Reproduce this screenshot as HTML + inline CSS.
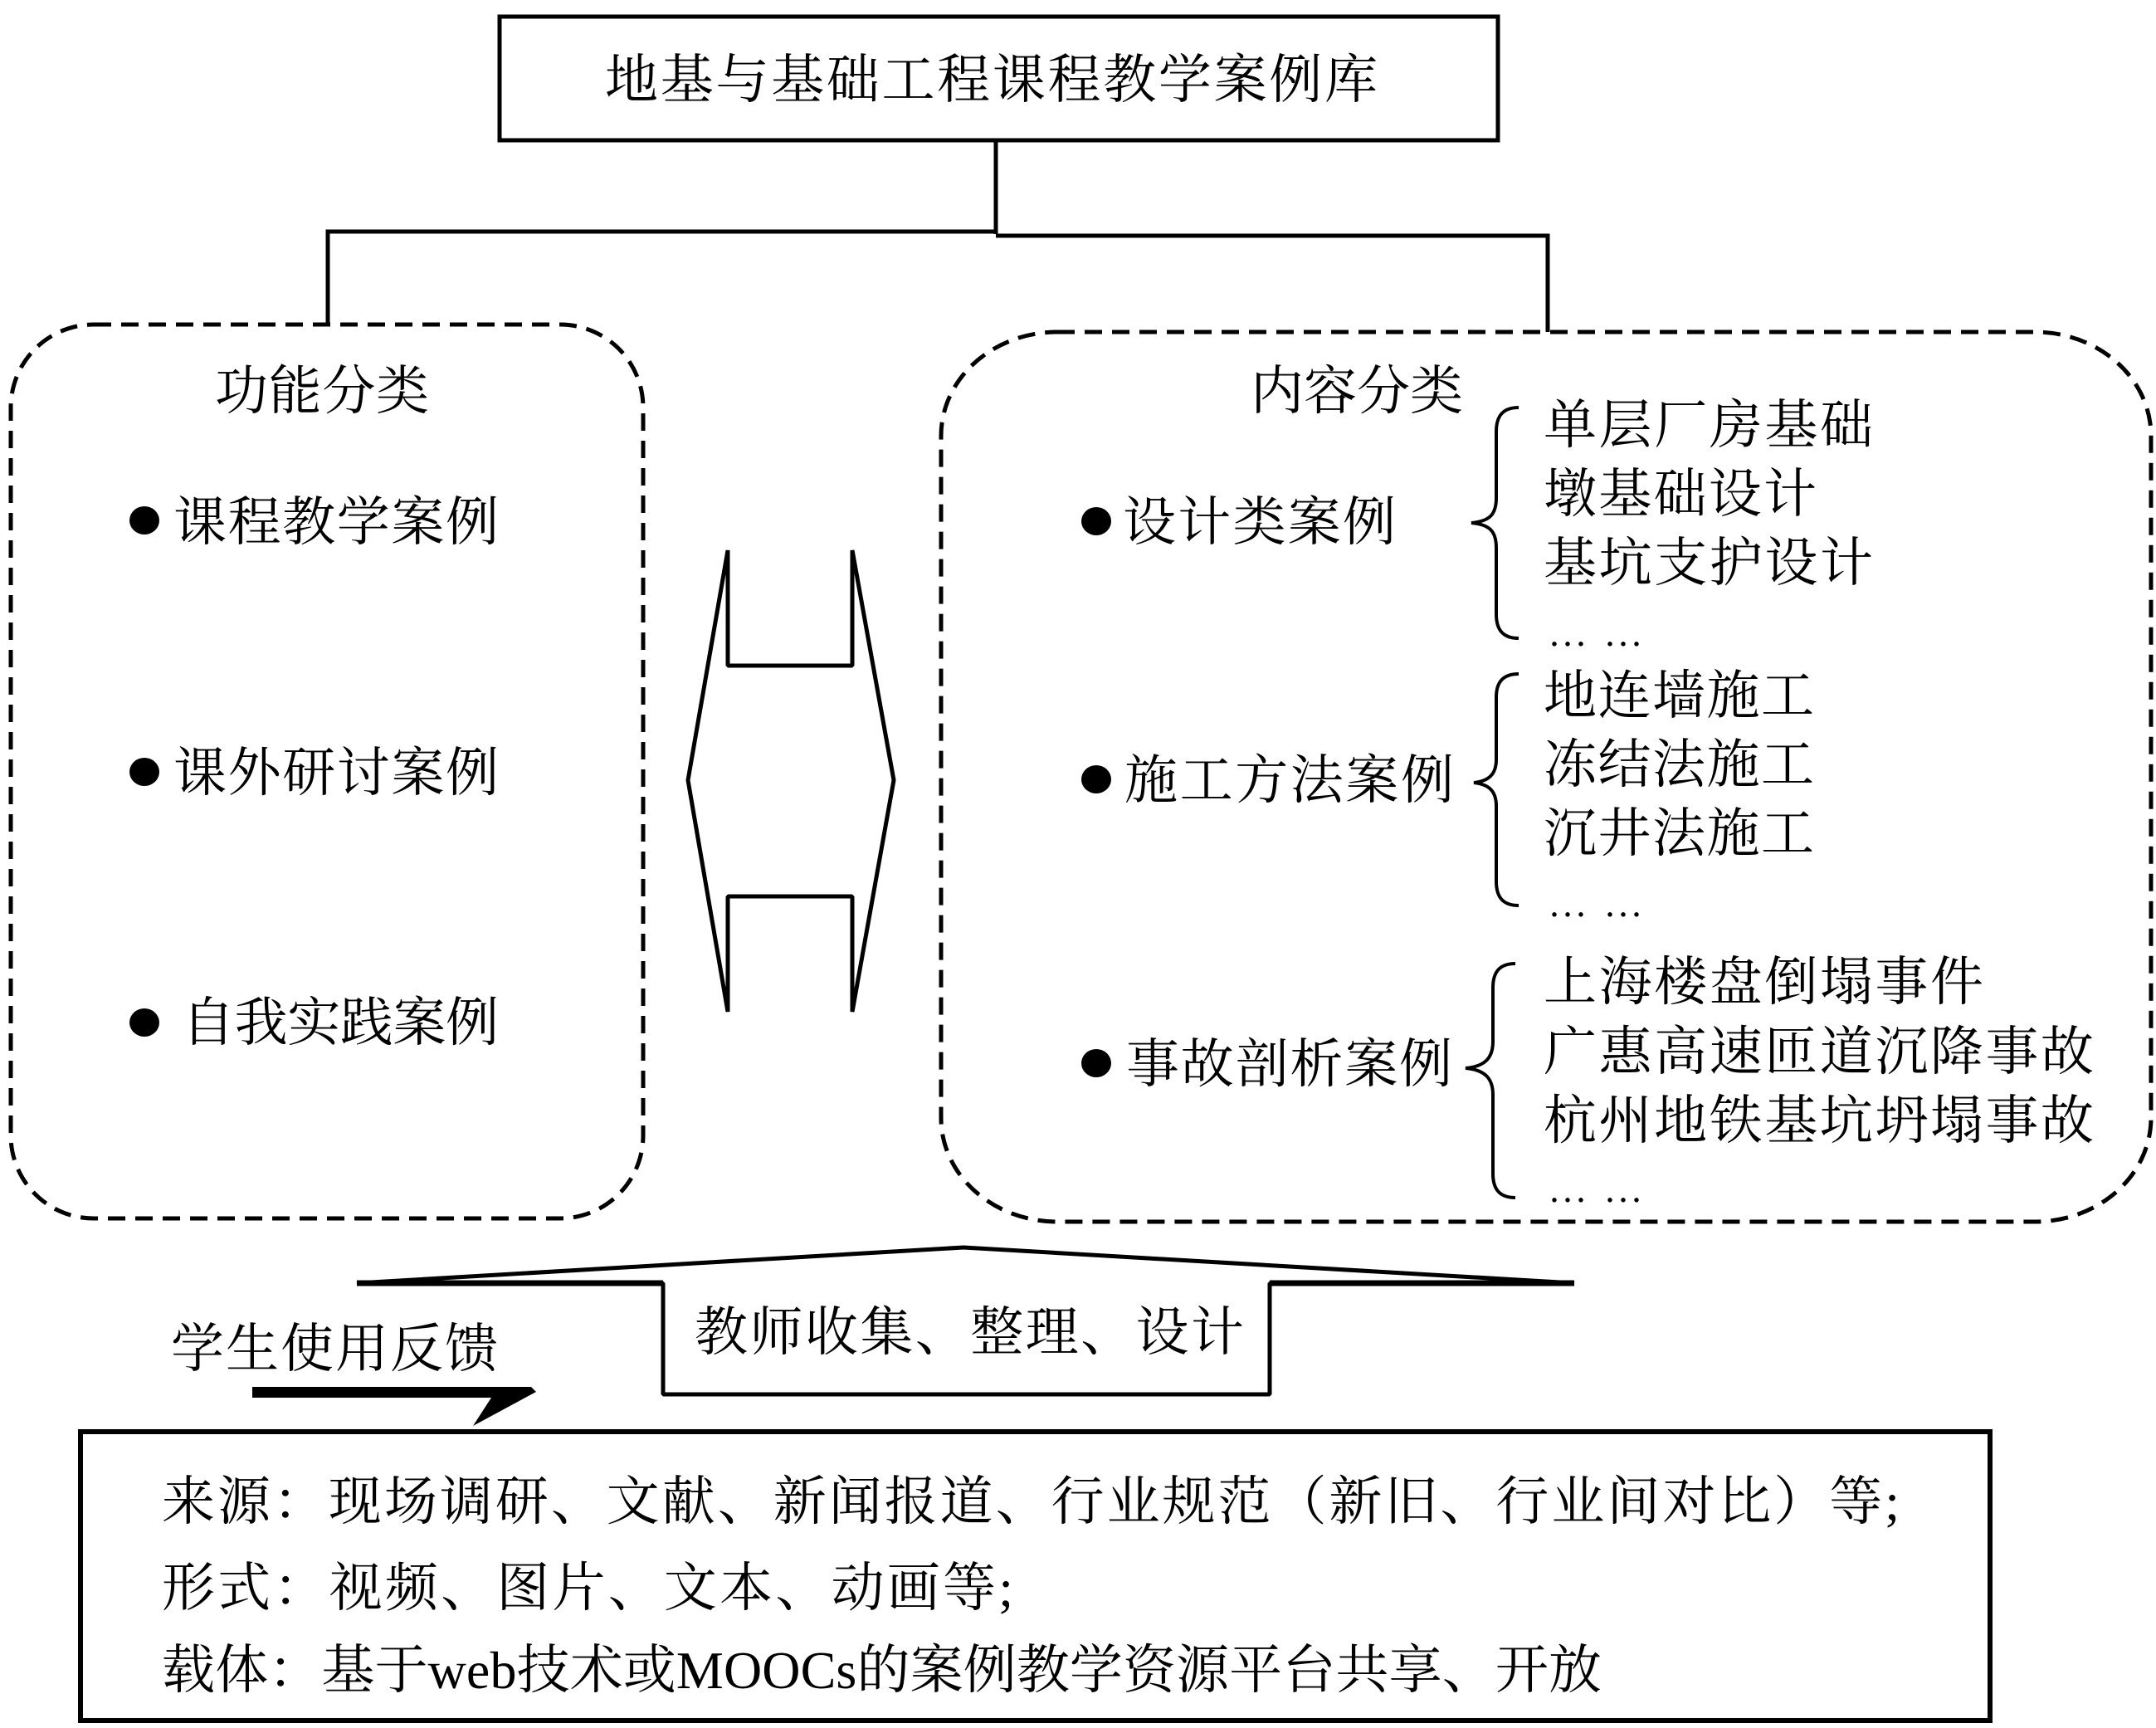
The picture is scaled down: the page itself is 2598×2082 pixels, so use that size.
<!DOCTYPE html>
<html lang="zh"><head><meta charset="utf-8"><title>地基与基础工程课程教学案例库</title>
<style>
html,body{margin:0;padding:0;background:#fff}
svg{display:block}
text{font-family:"Liberation Serif","Noto Serif CJK SC",serif;font-size:64px;fill:#000}
.c{font-family:"Noto Serif CJK SC","Liberation Serif",serif;font-size:48px}
</style></head><body>
<svg width="2598" height="2082" viewBox="0 0 2598 2082" xmlns="http://www.w3.org/2000/svg">
<rect width="2598" height="2082" fill="#fff"/>
<g fill="none" stroke="#000" stroke-width="5">
<rect x="602" y="20" width="1203" height="149"/>
<path d="M1200 170V282M1200 279H395V390M1200 284H1865V400"/>
<rect x="97" y="1725" width="2301" height="348" stroke-width="6"/>
<polygon points="877,663 877,802 1027,802 1027,663 1077,940 1027,1219 1027,1080 877,1080 877,1219 829,940" stroke-width="5" stroke-linejoin="bevel"/>
<polygon points="430,1546 1161,1503 1897,1546 1530,1546 1530,1680 799,1680 799,1546" stroke-width="5" stroke-linejoin="bevel"/>
<path d="M430 1546H799M1530 1546H1897" stroke-width="7"/>
<rect x="13" y="391" width="762" height="1077" rx="100" ry="100" stroke-width="5" stroke-dasharray="21 12"/>
<rect x="1134" y="400" width="1458" height="1072" rx="140" ry="125" stroke-width="5" stroke-dasharray="21 12"/>
<path d="M1830 491C1812 491 1803 500 1803 520V600C1803 620 1795 628 1773 630C1795 632 1803 640 1803 660V740C1803 760 1812 769 1830 769" stroke-width="4"/>
<path d="M1830 812C1812 812 1803 821 1803 840V915C1803 932 1795 941 1776 943C1795 945 1803 954 1803 971V1062C1803 1082 1812 1091 1830 1091" stroke-width="4"/>
<path d="M1826 1161C1808 1161 1799 1170 1799 1190V1255C1799 1275 1789 1285 1766 1287C1789 1289 1799 1299 1799 1319V1414C1799 1434 1808 1443 1826 1443" stroke-width="4"/>
</g>
<polygon points="304,1671 640,1671 646,1677 570,1718 592,1684 304,1684" fill="#000"/>
<g fill="#000">
<ellipse cx="174" cy="627" rx="18" ry="17"/><ellipse cx="174" cy="930" rx="18" ry="17"/><ellipse cx="174" cy="1232" rx="18" ry="17"/>
<ellipse cx="1321" cy="628" rx="18" ry="17"/><ellipse cx="1321" cy="939" rx="18" ry="17"/><ellipse cx="1321" cy="1281" rx="18" ry="17"/>
</g>
<g>
<text x="729" y="118" textLength="931">地基与基础工程课程教学案例库</text>
<text x="259" y="493" textLength="258">功能分类</text>
<text x="209" y="651" textLength="392">课程教学案例</text>
<text x="209" y="953" textLength="392">课外研讨案例</text>
<text x="219" y="1254" textLength="382">自我实践案例</text>
<text x="1507" y="493" textLength="256">内容分类</text>
<text x="1353" y="651" textLength="329">设计类案例</text>
<text x="1355" y="962" textLength="397">施工方法案例</text>
<text x="1357" y="1304" textLength="393">事故剖析案例</text>
<text x="1860" y="534" textLength="397">单层厂房基础</text>
<text x="1860" y="617" textLength="329">墩基础设计</text>
<text x="1860" y="700" textLength="397">基坑支护设计</text>
<text class="c" x="1865" y="794">…</text><text class="c" x="1932" y="794">…</text>
<text x="1860" y="860" textLength="326">地连墙施工</text>
<text x="1860" y="943" textLength="326">冻结法施工</text>
<text x="1860" y="1026" textLength="326">沉井法施工</text>
<text class="c" x="1865" y="1120">…</text><text class="c" x="1932" y="1120">…</text>
<text x="1860" y="1205" textLength="530">上海楼盘倒塌事件</text>
<text x="1860" y="1289" textLength="663">广惠高速匝道沉降事故</text>
<text x="1860" y="1372" textLength="663">杭州地铁基坑坍塌事故</text>
<text class="c" x="1865" y="1464">…</text><text class="c" x="1932" y="1464">…</text>
<text x="837" y="1627" textLength="662">教师收集、整理、设计</text>
<text x="206" y="1647" textLength="394">学生使用反馈</text>
<text x="195" y="1831" textLength="2094">来源：现场调研、文献、新闻报道、行业规范（新旧、行业间对比）等;</text>
<text x="195" y="1935" textLength="1026">形式：视频、图片、文本、动画等;</text>
<text x="195" y="2034" textLength="1735">载体：基于web技术或MOOCs的案例教学资源平台共享、开放</text>
</g>
</svg>
</body></html>
